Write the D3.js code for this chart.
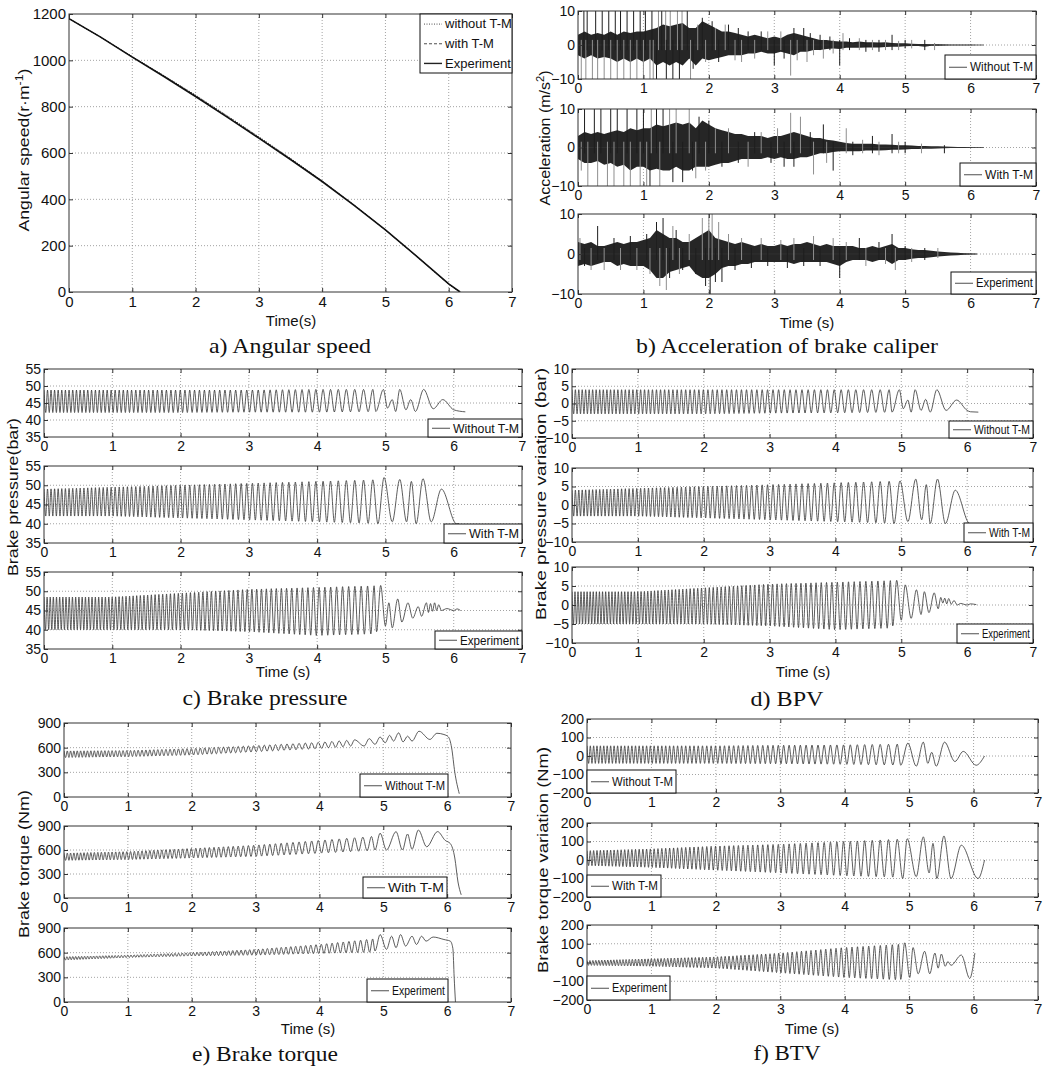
<!DOCTYPE html>
<html>
<head>
<meta charset="utf-8">
<script src="https://cdn.jsdelivr.net/npm/d3@7"></script>
<style>
  body { margin: 0; background: #fff; }
  text { font-family: "Liberation Sans", Arial, sans-serif; fill: #111; }
  .cap { font-family: "Liberation Serif", "Times New Roman", serif; }
  .grid line { stroke: #8c8c8c; stroke-width: 0.8; stroke-dasharray: 1,2; }
</style>
</head>
<body>
<svg id="fig" width="1046" height="1069"></svg>
<script>

const svg = d3.select("#fig");
svg.append("rect").attr("width", 1046).attr("height", 1069).attr("fill", "#fff");

// COMMON TICKS

const timeTicks = [0, 1, 2, 3, 4, 5, 6, 7];

// a) ANGULAR SPEED

const speedT       = [0, 0.5, 1, 1.5, 2, 2.5, 3, 3.5, 4, 4.5, 5, 5.5, 6, 6.18];
const speedWithout = [1180, 1100, 1016, 934, 850, 761, 670, 577, 480, 377, 268, 152, 33, 0];
const speedWith    = [1180, 1100, 1015, 932, 847, 758, 667, 574, 478, 376, 268, 153, 34, 0];
const speedExp     = [1180, 1100, 1014, 930, 844, 755, 664, 572, 477, 375, 268, 153, 35, 0];

// b) ACCELERATION: core band every 0.1 s (hi / lo) and single spikes [t, value]

const accT = d3.range(0, 63).map(i => i / 10);

const acc1Hi = [
  3, 4, 3, 3.5, 3, 4, 3, 4, 3.5, 4,
  4, 4.5, 5, 6, 5.5, 6, 6.5, 5, 5, 7,
  6, 5, 4, 4, 3.5, 3, 2.5, 3, 2.5, 2,
  2.5, 2, 3, 3.5, 3, 2.5, 2, 1.5, 1.5, 1.2,
  1, 1, 0.8, 1, 0.8, 0.8, 0.7, 0.8, 0.6, 0.5,
  0.5, 0.4, 0.3, 0.3, 0.25, 0.2, 0.15, 0.1, 0.1, 0.08,
  0.05, 0.03, 0];
const acc1Lo = [
  -3, -4, -3, -4, -3.5, -4, -5, -4, -5, -4,
  -5, -4, -6, -5, -6, -5, -6, -4, -6, -4,
  -4.5, -4, -3.5, -3, -3, -3, -2.5, -2.5, -2, -2.5,
  -2.5, -2, -2.5, -3, -2, -2, -1.5, -1.5, -1.2, -1,
  -1.2, -0.8, -0.8, -0.8, -0.7, -0.7, -0.7, -0.6, -0.5, -0.5,
  -0.4, -0.3, -0.3, -0.5, -0.2, -0.2, -0.15, -0.1, -0.1, -0.08,
  -0.05, -0.03, 0];
const acc1Spikes = [[0.05,-10],[0.09,10],[0.12,-10],[0.14,10],[0.22,-10],[0.27,10],[0.3,-10],[0.37,10],[0.4,-10],[0.47,10],[0.5,-10],[0.57,10],[0.6,-10],[0.65,10],[0.7,-10],[0.75,10],[0.8,-10],[0.85,10],[0.9,-10],[0.95,10],[1.0,-10],[1.03,10],[1.1,-10],[1.13,10],[1.15,-10],[1.2,-10],[1.23,10],[1.28,10],[1.34,10],[1.35,-10],[1.41,10],[1.45,-10],[1.52,10],[1.55,-10],[1.59,10],[1.67,10],[1.72,-10],[1.76,-7],[1.83,6],[1.9,8],[1.95,-5],[2.05,7],[2.1,5],[2.15,-5],[2.25,6],[2.3,6],[2.4,-4.5],[2.45,5],[2.5,-5],[2.6,4],[2.7,-4],[2.8,4],[2.9,4],[3.0,-6],[3.1,4],[3.15,-4],[3.25,-9],[3.3,5],[3.35,-4.5],[3.45,5],[3.5,-5],[3.55,3.5],[3.6,-3],[3.7,3],[3.75,-4],[3.85,2.5],[3.9,-2.5],[4.0,-6],[4.05,3.5],[4.15,2],[4.3,2],[4.4,-2],[4.5,1.5],[4.6,-2],[4.7,-1.5],[4.8,3],[4.9,1.2],[5.0,-1],[5.1,-1],[5.3,-1.5],[5.45,0.6]];

const acc2Hi = [
  3, 4, 3.5, 4, 3.5, 4, 4.5, 4, 5, 4.5,
  5, 5, 6, 5.5, 6, 6.5, 6, 6.5, 5, 7,
  6, 5, 4.5, 4, 3.5, 3.5, 3, 3, 3, 2.5,
  3, 3, 3.5, 4, 3.5, 3, 2.5, 2.5, 2, 1.8,
  1.5, 1.2, 1, 1, 1, 1, 0.8, 0.8, 0.7, 0.6,
  0.6, 0.5, 0.4, 0.4, 0.3, 0.3, 0.25, 0.2, 0.15, 0.1,
  0.05, 0.03, 0];
const acc2Lo = [
  -3, -4, -4, -3.5, -4.5, -4, -5, -4.5, -6, -5,
  -5, -6, -5.5, -6, -6, -5, -6, -6, -5, -5,
  -5, -4.5, -4, -4, -3.5, -3, -3, -3, -3, -2.5,
  -3, -2.5, -3, -3, -2.5, -2.5, -2, -1.5, -1.5, -1.2,
  -1, -1, -1, -1, -0.8, -0.8, -0.8, -0.7, -0.6, -0.6,
  -0.5, -0.4, -0.4, -0.3, -0.3, -0.25, -0.2, -0.15, -0.1, -0.1,
  -0.05, -0.03, 0];
const acc2Spikes = [[0.05,-6],[0.1,10],[0.15,-10],[0.25,10],[0.3,-10],[0.35,10],[0.45,-10],[0.5,10],[0.55,-10],[0.6,10],[0.7,-10],[0.75,10],[0.8,-10],[0.9,10],[0.95,-10],[1.0,10],[1.05,-10],[1.1,-10],[1.12,10],[1.2,10],[1.25,-10],[1.3,10],[1.4,10],[1.45,-9],[1.5,10],[1.6,-9],[1.7,10],[1.75,-6],[1.8,-8],[1.85,8],[1.95,-6],[2.0,7],[2.1,5],[2.2,-5],[2.3,5],[2.45,-4],[2.6,-5],[2.7,4],[2.8,4],[2.95,-4],[3.05,5],[3.15,-5],[3.25,9],[3.3,-5],[3.4,8],[3.55,4],[3.6,-7],[3.75,6],[3.8,-4],[3.9,-6],[4.1,5],[4.2,-2],[4.35,2],[4.5,3],[4.6,-2],[4.8,3.5],[4.9,-1.5],[5.0,-1.5],[5.25,1],[5.6,0.6]];

const acc3Hi = [
  3, 2.5, 3, 2, 2, 2.5, 3, 2.5, 3, 3,
  3.5, 4, 6, 5, 4, 4, 3, 3, 4, 5,
  6, 4, 3.5, 3, 2.5, 3, 2.5, 2, 2.5, 2,
  2, 2.5, 2, 2.5, 2.5, 3, 2.5, 2, 2.5, 2,
  2, 2, 2, 1.5, 1.5, 2, 1.5, 2, 2.5, 1.5,
  1.5, 1.2, 1, 1, 0.8, 0.6, 0.5, 0.4, 0.3, 0.2,
  0.15, 0.05, 0];
const acc3Lo = [
  -3, -2.5, -3, -2.5, -2, -2, -3, -2.5, -3, -3,
  -3, -4, -6, -6, -4.5, -4, -3.5, -3, -5, -6,
  -6, -5, -3.5, -3, -3, -2.5, -2.5, -2, -2, -2,
  -2, -2, -2, -2.5, -2, -2, -2, -2, -2, -2.5,
  -3, -2, -1.5, -1.5, -1.5, -2, -1.5, -1.5, -2.5, -1.5,
  -1.5, -1.2, -1, -1, -0.8, -0.6, -0.5, -0.4, -0.3, -0.2,
  -0.15, -0.05, 0];
const acc3Spikes = [[0.03,4],[0.1,-3],[0.2,-4],[0.3,7],[0.4,-4],[0.55,4],[0.65,-4],[0.8,4.5],[0.9,-4],[1.05,5],[1.1,-5],[1.2,8],[1.25,-8],[1.3,9],[1.35,-9],[1.4,-6],[1.45,7],[1.5,6],[1.55,-5],[1.6,-4],[1.7,5],[1.8,-5],[1.9,9],[1.95,-8],[2.0,10],[2.02,-10],[2.05,10],[2.1,-7],[2.15,8],[2.2,-7],[2.3,5],[2.4,-4],[2.5,4],[2.65,-3.5],[2.8,4],[2.9,-3],[3.1,3.5],[3.2,-3.5],[3.3,4],[3.45,-3],[3.6,4.5],[3.7,-3],[3.9,4],[4.0,-6],[4.1,3],[4.3,4],[4.4,-3],[4.6,3],[4.7,-2.5],[4.8,5],[4.85,-4],[5.0,2],[5.1,-2],[5.3,1.5],[5.5,-1]];

// c-f) OSCILLATIONS: envelope knots, oscillation frequency (Hz) and the readable tail extrema

const envT = [0, 1, 2, 3, 4, 5];
const freqT = [0, 1, 2, 3, 4, 5, 6];
const freqSim = [19.5, 17, 14.5, 12, 9.5, 6.5, 3.5];
const freqExp = [22, 20, 17, 14.5, 12, 10, 8];

const presWithoutHi = [48.8, 48.8, 48.8, 48.8, 49, 49];
const presWithoutLo = [42.2, 42.2, 42.2, 42.3, 42.3, 42.5];
const presWithoutTail = [[4.86,42.5],[4.97,49],[5.03,43.5],[5.1,46],[5.15,42.5],[5.21,49],[5.3,43],[5.37,46],[5.44,42.5],[5.56,49],[5.7,43.3],[5.84,46],[6.0,43],[6.17,42.4]];
const presWithHi = [49, 49.5, 50, 50.5, 51, 51.5];
const presWithLo = [42, 42, 41.5, 41, 40.5, 40];
const presWithTail = [[4.89,40],[4.98,52],[5.1,40.5],[5.21,51.5],[5.31,40.5],[5.38,51],[5.45,40],[5.55,51.7],[5.67,40.5],[5.82,49],[6.04,40],[6.08,40]];
const presExpHi = [48.5, 48.5, 49.5, 50.5, 51, 51.5];
const presExpLo = [40, 40, 40, 39.5, 38.5, 39];
const presExpTail = [[4.87,39.5],[4.93,51.5],[5.0,41],[5.05,47],[5.1,40.5],[5.18,48],[5.24,42],[5.33,47],[5.4,43],[5.48,46],[5.53,43.5],[5.6,47],[5.63,44.5],[5.66,46.8],[5.69,44.8],[5.72,47],[5.75,45],[5.78,46.5],[5.82,45],[5.9,45.5],[6.0,45],[6.05,45.4],[6.1,45]];

const bpvWithoutHi = [4, 4, 4, 4, 4, 4];
const bpvWithoutLo = [-3, -3, -3, -2.8, -2.7, -2.5];
const bpvWithoutTail = [[4.86,-2.5],[4.97,4],[5.03,-1.5],[5.1,1],[5.15,-2.5],[5.21,4],[5.3,-2],[5.37,1.2],[5.44,-2.5],[5.54,4],[5.68,-2],[5.84,1],[6.0,-2],[6.05,-2.4],[6.17,-2.5]];
const bpvWithHi = [4, 4.5, 5, 5.5, 6, 6.5];
const bpvWithLo = [-3, -3, -3.5, -4, -4.5, -5];
const bpvWithTail = [[4.89,-5],[4.98,6.5],[5.1,-4.5],[5.22,7],[5.31,-4],[5.38,5.5],[5.44,-5],[5.55,7],[5.67,-5],[5.82,4],[6.04,-5],[6.14,-5]];
const bpvExpHi = [3.5, 3.5, 4.5, 5.5, 6, 6.5];
const bpvExpLo = [-5, -5, -5, -5.5, -6.5, -6];
const bpvExpTail = [[4.87,-5.5],[4.93,6.5],[5.0,-4],[5.06,5.3],[5.15,-3.5],[5.23,4],[5.3,-2.5],[5.35,3.5],[5.42,-2],[5.5,3.2],[5.56,-1],[5.6,2],[5.63,0.5],[5.66,1.8],[5.69,0.3],[5.72,1.7],[5.76,0.2],[5.8,1.2],[5.85,0],[5.9,0.4],[6.0,0],[6.05,0.3],[6.14,0.1]];

const torqWithoutHi = [560, 565, 590, 625, 665, 720];
const torqWithoutLo = [480, 490, 510, 550, 590, 650];
const torqWithoutTail = [[4.7,620],[4.78,710],[4.87,640],[4.95,730],[5.03,660],[5.1,750],[5.16,680],[5.24,780],[5.31,670],[5.38,740],[5.45,680],[5.56,800],[5.73,700],[5.84,775],[5.95,760],[6.02,730],[6.07,600],[6.12,300],[6.19,40]];
const torqWithHi = [560, 580, 620, 660, 720, 780];
const torqWithLo = [470, 480, 500, 520, 560, 600];
const torqWithTail = [[4.87,600],[4.95,810],[5.05,600],[5.2,830],[5.3,600],[5.38,800],[5.45,610],[5.55,850],[5.68,640],[5.85,830],[5.97,720],[6.05,680],[6.12,500],[6.17,200],[6.22,40]];
const torqExpHi = [550, 570, 600, 640, 700, 780];
const torqExpLo = [510, 540, 560, 570, 590, 610];
const torqExpTail = [[4.87,620],[4.95,820],[5.05,640],[5.13,800],[5.2,660],[5.27,820],[5.35,680],[5.45,800],[5.52,700],[5.6,800],[5.67,740],[5.78,790],[5.95,760],[6.05,740],[6.09,650],[6.11,300],[6.13,0]];

const btvWithoutHi = [55, 55, 55, 58, 60, 65];
const btvWithoutLo = [-40, -40, -40, -42, -45, -50];
const btvWithoutTail = [[4.87,-50],[4.98,70],[5.11,-55],[5.22,75],[5.29,-40],[5.35,20],[5.42,-55],[5.55,75],[5.71,-30],[5.84,25],[6.04,-50],[6.17,0]];
const btvWithHi = [50, 60, 75, 85, 100, 115];
const btvWithLo = [-30, -40, -55, -70, -85, -95];
const btvWithTail = [[4.9,-100],[4.97,115],[5.11,-90],[5.22,125],[5.31,-70],[5.37,90],[5.43,-100],[5.54,130],[5.65,-100],[5.81,80],[6.07,-100],[6.17,0]];
const btvExpHi = [10, 20, 30, 50, 80, 100];
const btvExpLo = [-15, -20, -30, -55, -80, -95];
const btvExpTail = [[4.87,-90],[4.93,105],[5.01,-80],[5.06,80],[5.14,-60],[5.24,60],[5.32,-60],[5.4,50],[5.45,-30],[5.5,45],[5.56,-20],[5.6,5],[5.65,-15],[5.81,40],[5.94,-85],[6.02,50]];


// HELPERS

let clipCount = 0;

function subplot(o) {

  const x = d3.scaleLinear().domain([0, 7]).range([o.x0, o.x1]);
  const y = d3.scaleLinear().domain(o.yDomain).range([o.y1, o.y0]);
  const g = svg.append("g");

  g.append("g").attr("class", "grid")
    .selectAll("line").data(timeTicks.slice(1, -1)).join("line")
    .attr("x1", d => x(d)).attr("x2", d => x(d))
    .attr("y1", o.y0).attr("y2", o.y1);

  g.append("g").attr("class", "grid")
    .selectAll("line").data(o.yTicks.slice(1, -1)).join("line")
    .attr("y1", d => y(d)).attr("y2", d => y(d))
    .attr("x1", o.x0).attr("x2", o.x1);

  const id = "clip" + (clipCount++);
  g.append("clipPath").attr("id", id)
    .append("rect")
    .attr("x", o.x0).attr("y", o.y0)
    .attr("width", o.x1 - o.x0).attr("height", o.y1 - o.y0);

  const plot = g.append("g").attr("clip-path", `url(#${id})`);

  const styleAxis = a => {
    a.select(".domain").remove();
    a.attr("font-size", o.fs).attr("font-family", null).attr("color", "#333");
  };

  g.append("g").attr("transform", `translate(0,${o.y1})`)
    .call(d3.axisBottom(x).tickValues(timeTicks).tickFormat(d3.format("d"))
      .tickSizeInner(-4).tickSizeOuter(0).tickPadding(o.pad || 4))
    .call(styleAxis);

  g.append("g").attr("transform", `translate(0,${o.y0})`)
    .call(d3.axisTop(x).tickValues(timeTicks).tickFormat("")
      .tickSizeInner(-4).tickSizeOuter(0))
    .call(styleAxis);

  g.append("g").attr("transform", `translate(${o.x0},0)`)
    .call(d3.axisLeft(y).tickValues(o.yTicks).tickFormat(d3.format("d"))
      .tickSizeInner(-4).tickSizeOuter(0).tickPadding(3))
    .call(styleAxis);

  g.append("g").attr("transform", `translate(${o.x1},0)`)
    .call(d3.axisRight(y).tickValues(o.yTicks).tickFormat("")
      .tickSizeInner(-4).tickSizeOuter(0))
    .call(styleAxis);

  g.append("rect")
    .attr("x", o.x0).attr("y", o.y0)
    .attr("width", o.x1 - o.x0).attr("height", o.y1 - o.y0)
    .attr("fill", "none").attr("stroke", "#333").attr("stroke-width", 1);

  return { g, plot, x, y, o };
}

function legend(sp, box, items, fs, fit) {

  const [bx, by, bw, bh] = box;
  const lg = sp.g.append("g");

  lg.append("rect")
    .attr("x", bx).attr("y", by).attr("width", bw).attr("height", bh)
    .attr("fill", "#fff").attr("stroke", "#111").attr("stroke-width", 1);

  items.forEach((it, i) => {
    const base = by + (i + 0.5) * bh / items.length + fs * 0.35;
    lg.append("line")
      .attr("x1", bx + 4).attr("x2", bx + 22)
      .attr("y1", base - fs * 0.33).attr("y2", base - fs * 0.33)
      .attr("stroke", "#222").attr("stroke-width", it.w || 0.8)
      .attr("stroke-dasharray", it.dash || null);
    const t = lg.append("text")
      .attr("x", bx + 25).attr("y", base)
      .attr("font-size", fs)
      .text(it.label);
    if (fit) t.attr("textLength", bx + bw - 3 - (bx + 25)).attr("lengthAdjust", "spacingAndGlyphs");
  });
}

function yLabel(x, yc, parts, fs, len) {
  const t = svg.append("text")
    .attr("transform", `translate(${x},${yc}) rotate(-90)`)
    .attr("text-anchor", "middle")
    .attr("font-size", fs)
    .attr("textLength", len).attr("lengthAdjust", "spacingAndGlyphs");
  parts.forEach(p => {
    const s = t.append("tspan").text(p.t);
    if (p.sup) s.attr("baseline-shift", "super").attr("font-size", fs * 0.7);
  });
}

function xLabel(x, y, txt, fs) {
  svg.append("text").attr("x", x).attr("y", y)
    .attr("text-anchor", "middle").attr("font-size", fs).text(txt);
}

function caption(x, y, txt, len) {
  svg.append("text").attr("class", "cap")
    .attr("x", x - len / 2).attr("y", y)
    .attr("font-size", 22)
    .attr("textLength", len).attr("lengthAdjust", "spacingAndGlyphs")
    .text(txt);
}

// alternate peaks and troughs between the envelopes, one per half cycle, then the read tail
function buildWave(hi, lo, fV, tail) {
  const hiS = d3.scaleLinear().domain(envT).range(hi).clamp(true);
  const loS = d3.scaleLinear().domain(envT).range(lo).clamp(true);
  const fS = d3.scaleLinear().domain(freqT).range(fV).clamp(true);
  const pts = [];
  const tStop = tail[0][0];
  let t = 0, up = true;
  while (true) {
    const half = 0.5 / fS(t);
    if (t > tStop - 0.6 * half) break;
    pts.push([t, up ? hiS(t) : loS(t)]);
    t += half;
    up = !up;
  }
  // each tail starts with a trough, so end the generated part on a peak
  if (pts.length && up) pts.pop();
  return pts.concat(tail);
}

function drawWave(sp, pts) {
  const line = d3.line()
    .x(d => sp.x(d[0]))
    .y(d => sp.y(d[1]))
    .curve(d3.curveMonotoneX);
  sp.plot.append("path")
    .attr("d", line(pts))
    .attr("fill", "none").attr("stroke", "#333").attr("stroke-width", 0.8);
}

function drawAccel(sp, hi, lo, spikes, tEnd) {
  const area = d3.area()
    .defined((d, i) => accT[i] <= tEnd + 1e-9)
    .x((d, i) => sp.x(accT[i]))
    .y0((d, i) => sp.y(lo[i]))
    .y1(d => sp.y(d));
  sp.plot.append("path").attr("d", area(hi)).attr("fill", "#262626");

  sp.plot.append("line")
    .attr("x1", sp.x(0)).attr("x2", sp.x(tEnd))
    .attr("y1", sp.y(0)).attr("y2", sp.y(0))
    .attr("stroke", "#333").attr("stroke-width", 0.8);

  sp.plot.append("g").selectAll("line").data(spikes).join("line")
    .attr("x1", d => sp.x(d[0])).attr("x2", d => sp.x(d[0]))
    .attr("y1", d => sp.y(d[1] > 0 ? -1.5 : 1.5)).attr("y2", d => sp.y(d[1]))
    .attr("stroke", (d, i) => i % 2 ? "#1e1e1e" : "#8f8f8f")
    .attr("stroke-width", 1);
}


// a) ANGULAR SPEED

const spA = subplot({
  x0: 69, x1: 512, y0: 14, y1: 292,
  yDomain: [0, 1200], yTicks: [0, 200, 400, 600, 800, 1000, 1200], fs: 15, pad: 4
});

const speedLine = d3.line()
  .x((d, i) => spA.x(speedT[i]))
  .y(d => spA.y(d));

spA.plot.append("path").attr("d", speedLine(speedWithout))
  .attr("fill", "none").attr("stroke", "#222").attr("stroke-width", 1)
  .attr("stroke-dasharray", "1,1.5");
spA.plot.append("path").attr("d", speedLine(speedWith))
  .attr("fill", "none").attr("stroke", "#222").attr("stroke-width", 1)
  .attr("stroke-dasharray", "3,2");
spA.plot.append("path").attr("d", speedLine(speedExp))
  .attr("fill", "none").attr("stroke", "#111").attr("stroke-width", 1.6);

legend(spA, [420, 14, 92, 59], [
  { label: "without T-M", dash: "1,1.5" },
  { label: "with T-M", dash: "3,2" },
  { label: "Experiment", w: 1.4 }
], 13, false);

yLabel(29, 150, [{ t: "Angular speed(r·m" }, { t: "-1", sup: true }, { t: ")" }], 15, 163);
xLabel(291, 326, "Time(s)", 15);
caption(290, 353, "a) Angular speed", 162);


// b) ACCELERATION OF BRAKE CALIPER

const bSubs = [[11, 79], [109, 186], [214, 294]];
const bSeries = [
  [acc1Hi, acc1Lo, acc1Spikes, 6.2, "Without T-M", [945, 55, 91, 24]],
  [acc2Hi, acc2Lo, acc2Spikes, 6.2, "With T-M", [960, 163, 76, 23]],
  [acc3Hi, acc3Lo, acc3Spikes, 6.1, "Experiment", [951, 272, 85, 22]]
];

bSubs.forEach((s, i) => {
  const sp = subplot({
    x0: 578, x1: 1036, y0: s[0], y1: s[1],
    yDomain: [-10, 10], yTicks: [-10, 0, 10], fs: 14, pad: 4
  });
  const [hi, lo, spikes, tEnd, label, box] = bSeries[i];
  drawAccel(sp, hi, lo, spikes, tEnd);
  legend(sp, box, [{ label }], 12.5, true);
});

yLabel(550, 138, [{ t: "Acceleration (m/s" }, { t: "2", sup: true }, { t: ")" }], 15, 135);
xLabel(807, 328, "Time (s)", 15);
caption(787, 353, "b) Acceleration of brake caliper", 302);


// c) BRAKE PRESSURE

const cSubs = [[369, 437], [466, 543], [572, 649]];
const cSeries = [
  [buildWave(presWithoutHi, presWithoutLo, freqSim, presWithoutTail), "Without T-M", [428, 419, 94, 18]],
  [buildWave(presWithHi, presWithLo, freqSim, presWithTail), "With T-M", [444, 524, 78, 19]],
  [buildWave(presExpHi, presExpLo, freqExp, presExpTail), "Experiment", [435, 631, 87, 18]]
];

cSubs.forEach((s, i) => {
  const sp = subplot({
    x0: 44, x1: 522, y0: s[0], y1: s[1],
    yDomain: [35, 55], yTicks: [35, 40, 45, 50, 55], fs: 14, pad: 4
  });
  drawWave(sp, cSeries[i][0]);
  legend(sp, cSeries[i][2], [{ label: cSeries[i][1] }], 13, true);
});

yLabel(18, 497, [{ t: "Brake pressure(bar)" }], 15, 158);
xLabel(283, 677, "Time (s)", 15);
caption(265, 705, "c) Brake pressure", 165);


// d) BPV

const dSubs = [[369, 438], [468, 542], [567, 643]];
const dSeries = [
  [buildWave(bpvWithoutHi, bpvWithoutLo, freqSim, bpvWithoutTail), "Without T-M", [949, 421, 84, 17]],
  [buildWave(bpvWithHi, bpvWithLo, freqSim, bpvWithTail), "With T-M", [964, 523, 69, 19]],
  [buildWave(bpvExpHi, bpvExpLo, freqExp, bpvExpTail), "Experiment", [957, 624, 76, 19]]
];

dSubs.forEach((s, i) => {
  const sp = subplot({
    x0: 572, x1: 1033, y0: s[0], y1: s[1],
    yDomain: [-10, 10], yTicks: [-10, -5, 0, 5, 10], fs: 14, pad: 4
  });
  drawWave(sp, dSeries[i][0]);
  legend(sp, dSeries[i][2], [{ label: dSeries[i][1] }], 12.5, true);
});

yLabel(546, 494, [{ t: "Brake pressure variation (bar)" }], 15, 252);
xLabel(803, 677, "Time (s)", 15);
caption(787, 706, "d) BPV", 73);


// e) BRAKE TORQUE

const eSubs = [[723, 797], [826, 898], [928, 1002]];
const eSeries = [
  [buildWave(torqWithoutHi, torqWithoutLo, freqSim, torqWithoutTail), "Without T-M", [360, 774, 88, 23]],
  [buildWave(torqWithHi, torqWithLo, freqSim, torqWithTail), "With T-M", [363, 877, 84, 21]],
  [buildWave(torqExpHi, torqExpLo, freqExp, torqExpTail), "Experiment", [367, 979, 81, 23]]
];

eSubs.forEach((s, i) => {
  const sp = subplot({
    x0: 64, x1: 511, y0: s[0], y1: s[1],
    yDomain: [0, 900], yTicks: [0, 300, 600, 900], fs: 14, pad: 4
  });
  drawWave(sp, eSeries[i][0]);
  legend(sp, eSeries[i][2], [{ label: eSeries[i][1] }], 12.5, true);
});

yLabel(29, 864, [{ t: "Brake torque (Nm)" }], 15, 148);
xLabel(308, 1034, "Time (s)", 15);
caption(265, 1061, "e) Brake torque", 146);


// f) BTV

const fSubs = [[719, 793], [823, 897], [925, 1000]];
const fSeries = [
  [buildWave(btvWithoutHi, btvWithoutLo, freqSim, btvWithoutTail), "Without T-M", [587, 770, 89, 23]],
  [buildWave(btvWithHi, btvWithLo, freqSim, btvWithTail), "With T-M", [587, 875, 74, 22]],
  [buildWave(btvExpHi, btvExpLo, freqExp, btvExpTail), "Experiment", [587, 976, 83, 24]]
];

fSubs.forEach((s, i) => {
  const sp = subplot({
    x0: 587, x1: 1038, y0: s[0], y1: s[1],
    yDomain: [-200, 200], yTicks: [-200, -100, 0, 100, 200], fs: 14, pad: 4
  });
  drawWave(sp, fSeries[i][0]);
  legend(sp, fSeries[i][2], [{ label: fSeries[i][1] }], 12.5, true);
});

yLabel(548, 860, [{ t: "Brake torque variation (Nm)" }], 15, 226);
xLabel(812, 1034, "Time (s)", 15);
caption(787, 1060, "f) BTV", 67);

</script>
</body>
</html>
